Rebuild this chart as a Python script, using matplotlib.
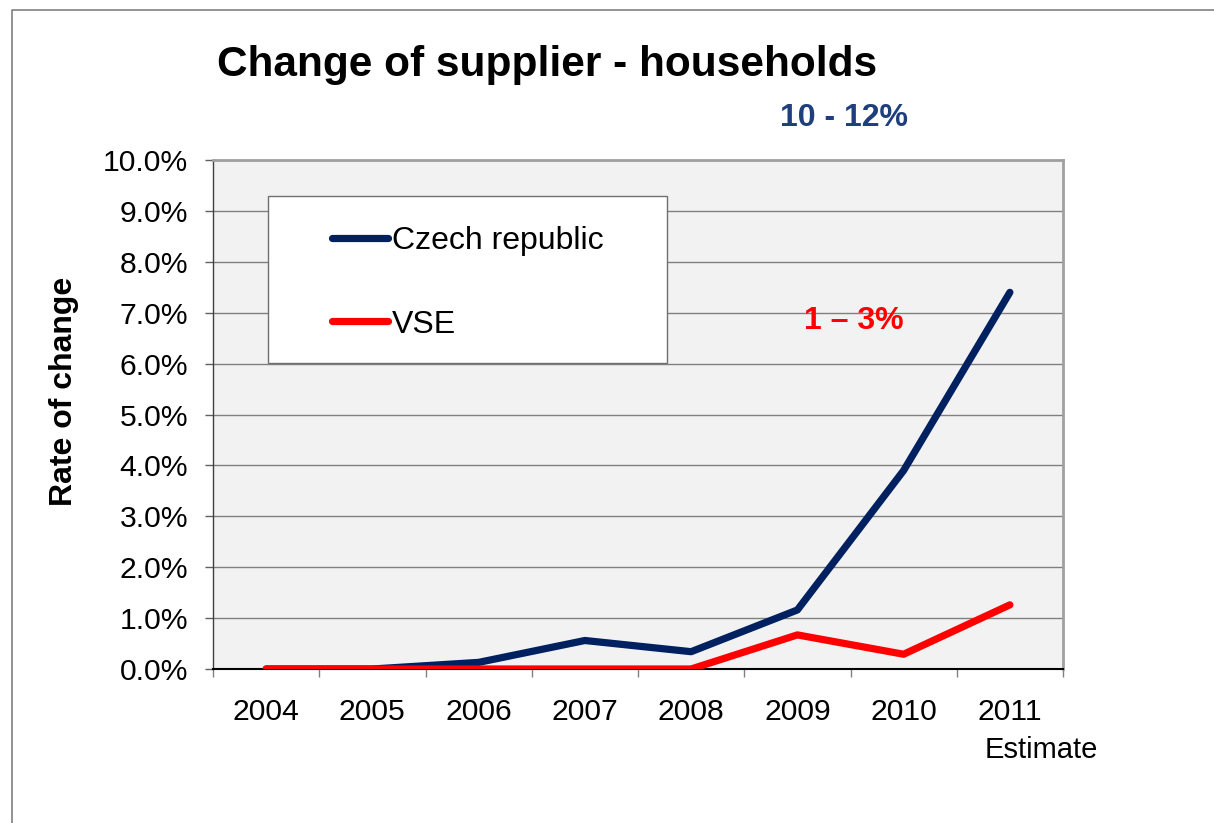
import matplotlib
matplotlib.use("Agg")
import matplotlib.pyplot as plt
from matplotlib.patches import Rectangle
from matplotlib.lines import Line2D
from matplotlib.ticker import FuncFormatter, FixedLocator

plt.rcParams['font.family'] = ['Liberation Sans', 'DejaVu Sans']

years = ["2004", "2005", "2006", "2007", "2008", "2009", "2010", "2011"]
czech = [0.0, 0.0, 0.13, 0.56, 0.34, 1.16, 3.90, 7.40]
vse = [0.0, 0.0, 0.0, 0.0, 0.0, 0.67, 0.29, 1.26]
series_names = ["Czech republic", "VSE"]
note_czech = "10 - 12%"
note_vse = "1 – 3%"
estimate_label = "Estimate"

W, H = 1214, 823
fig = plt.figure(figsize=(W / 100, H / 100), dpi=100)
fig.patch.set_facecolor("white")

L, R, T, B = 213, 1063, 160, 669
ax = fig.add_axes([L / W, 1 - B / H, (R - L) / W, (B - T) / H])
ax.set_facecolor("#F2F2F2")

x = list(range(len(years)))
navy = "#002060"
red = "#FF0000"
ax.plot(x, [v / 100 for v in czech], color=navy, lw=5.2, solid_capstyle="round",
        solid_joinstyle="round", zorder=4, label=series_names[0])
ax.plot(x, [v / 100 for v in vse], color=red, lw=5.2, solid_capstyle="round",
        solid_joinstyle="round", zorder=5, label=series_names[1])

ax.set_xlim(-0.5, len(years) - 0.5)
ax.set_ylim(0, 0.10)
ax.set_yticks([i / 100 for i in range(11)])
ax.yaxis.set_major_formatter(FuncFormatter(lambda v, p: f"{v * 100:.1f}%"))
ax.grid(axis="y", color="#808080", lw=1.0, zorder=1)
ax.set_axisbelow(True)

ax.xaxis.set_major_locator(FixedLocator([i - 0.5 for i in range(len(years) + 1)]))
ax.set_xticklabels([])
ax.set_xticks(x, minor=True)
ax.set_xticklabels(years, minor=True)
ax.tick_params(axis="x", which="major", direction="out", length=6, width=1, color="#808080")
ax.tick_params(axis="x", which="minor", length=0, pad=21, labelsize=21.7)
ax.tick_params(axis="y", direction="out", length=6, width=1, color="#606060", pad=12, labelsize=21.7)

for s in ["top", "right"]:
    ax.spines[s].set_color("#A0A0A0")
    ax.spines[s].set_linewidth(2)
ax.spines["left"].set_color("#404040")
ax.spines["left"].set_linewidth(1)
ax.spines["bottom"].set_color("black")
ax.spines["bottom"].set_linewidth(1.5)

ax.set_ylabel("Rate of change", fontsize=23, fontweight="bold")
ax.yaxis.set_label_coords(-(L - 79) / (R - L), (B - 391) / (B - T))

# legend box
bx0, bx1, by0, by1 = 268, 667, 196, 363
ax.add_patch(Rectangle(((bx0 - L) / (R - L), (B - by1) / (B - T)),
                       (bx1 - bx0) / (R - L), (by1 - by0) / (B - T),
                       transform=ax.transAxes, facecolor="white",
                       edgecolor="#707070", lw=1, zorder=6))
leg = ax.legend(loc="upper left", bbox_to_anchor=((332 - L) / (R - L), (B - 226) / (B - T)),
                frameon=False, fontsize=23, handlelength=1.75, handletextpad=0.12,
                labelspacing=1.68, borderpad=0, borderaxespad=0)
leg.set_zorder(7)

fig.text(547 / W, 1 - 65 / H, "Change of supplier - households", ha="center", va="center",
         fontsize=30.5, fontweight="bold")
fig.text(844 / W, 1 - 118 / H, note_czech, ha="center", va="center",
         fontsize=23, fontweight="bold", color="#1F3E7C")
fig.text(854 / W, 1 - 321 / H, note_vse, ha="center", va="center",
         fontsize=23, fontweight="bold", color=red)
fig.text(1041 / W, 1 - 750 / H, estimate_label, ha="center", va="center", fontsize=21)

fig.add_artist(Line2D([12 / W, 12 / W, 1], [0, 1 - 10 / H, 1 - 10 / H],
                      transform=fig.transFigure, color="#808080", lw=1.2))

fig.savefig("out.png", dpi=100)
